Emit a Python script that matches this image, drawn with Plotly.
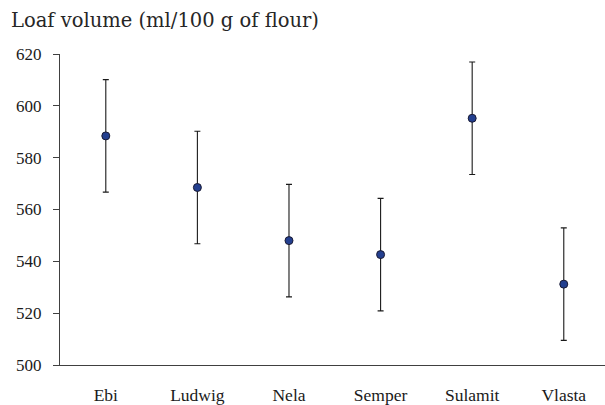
import plotly.graph_objects as go

cultivars = ["Ebi", "Ludwig", "Nela", "Semper", "Sulamit", "Vlasta"]
loaf_volume = [588.4, 568.5, 548.0, 542.6, 595.2, 531.2]
error = [21.7, 21.7, 21.7, 21.7, 21.7, 21.7]
y_ticks = [500, 520, 540, 560, 580, 600, 620]

fig = go.Figure()
fig.add_trace(go.Scatter(
    x=cultivars, y=loaf_volume, mode="markers",
    marker=dict(size=8, color="#233f8f", line=dict(color="#1a1a33", width=1)),
    error_y=dict(type="data", array=error, visible=True, color="#1a1a1a",
                 thickness=1.1, width=3),
    showlegend=False,
))

font_family = "Liberation Serif, Times New Roman, serif"
title_family = "DejaVu Serif, serif"
fig.update_layout(
    width=605, height=405,
    margin=dict(l=60, r=0, t=54, b=40),
    paper_bgcolor="white", plot_bgcolor="white",
    font=dict(family=font_family, size=17, color="#1a1a1a"),
    annotations=[dict(text="Loaf volume (ml/100 g of flour)", x=0, y=1,
                      xref="paper", yref="paper", xanchor="left", yanchor="middle",
                      xshift=-51, yshift=34, showarrow=False,
                      font=dict(family=title_family, size=19.5, color="#262626"))],
)
fig.update_xaxes(
    range=[-0.5, 5.45], showgrid=False, zeroline=False,
    showline=True, linecolor="#404040", linewidth=1.3,
    ticks="", ticklabelstandoff=14,
    tickfont=dict(family=font_family, size=17.5, color="#1a1a1a"),
)
fig.update_yaxes(
    range=[500, 620], tickvals=y_ticks, showgrid=False, zeroline=False,
    showline=True, linecolor="#404040", linewidth=1.3,
    ticks="outside", ticklen=6, tickcolor="#404040", tickwidth=1.3,
    ticklabelstandoff=8,
    tickfont=dict(family=font_family, size=17, color="#1a1a1a"),
)

fig.write_html("out.html")
